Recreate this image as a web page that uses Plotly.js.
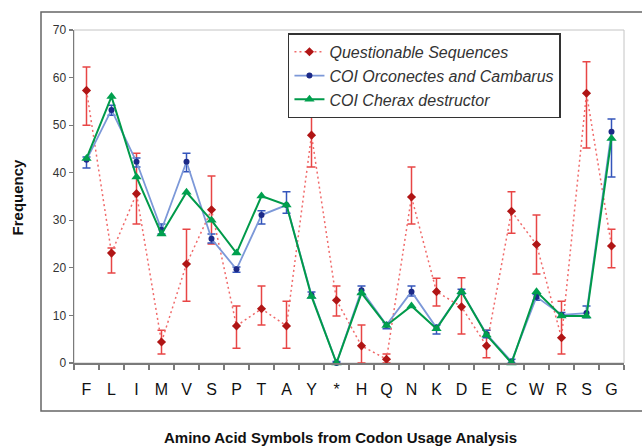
<!DOCTYPE html>
<html>
<head>
<meta charset="utf-8">
<script src="https://cdn.plot.ly/plotly-3.0.1.min.js"></script>
<style>
html,body{margin:0;padding:0;background:#fff;}
#chart{width:642px;height:447px;}
</style>
</head>
<body>
<div id="chart"></div>
<script>
const categories = ['F','L','I','M','V','S','P','T','A','Y','*','H','Q','N','K','D','E','C','W','R','S','G'];

const questionable   = [57.3, 23.1, 35.6, 4.4, 20.8, 32.2, 7.8, 11.4, 7.8, 47.9, 13.2, 3.6, 0.8, 34.9, 15.0, 11.8, 3.6, 31.9, 24.9, 5.3, 56.7, 24.6];
const questionableHi = [62.2, 24.2, 44.1, 6.9, 28.1, 39.3, 12.0, 16.2, 13.0, 53.2, 16.2, 8.0, 1.9, 41.2, 17.8, 17.9, 6.9, 36.0, 31.1, 13.0, 63.3, 28.1];
const questionableLo = [50.0, 18.9, 29.2, 1.9, 13.0, 25.0, 3.1, 8.0, 3.1, 41.2, 9.9, 0.0, 0.0, 29.2, 12.0, 6.1, 1.1, 27.3, 18.7, 1.9, 45.2, 20.0];

const orconectes   = [42.7, 53.2, 42.3, 28.0, 42.3, 26.1, 19.7, 31.1, 33.2, 14.3, 0.0, 15.3, 8.0, 15.0, 7.4, 15.0, 6.1, 0.3, 13.9, 10.1, 10.5, 48.6];
const orconectesHi = [43.3, 54.2, 43.1, 29.2, 44.1, 27.1, 20.2, 32.0, 36.0, 14.9, 0.3, 16.2, 8.5, 16.2, 8.0, 15.5, 6.9, 0.8, 14.4, 10.6, 12.0, 51.3];
const orconectesLo = [41.0, 52.1, 41.2, 27.1, 40.2, 25.2, 19.1, 29.2, 31.5, 13.7, 0.0, 14.5, 7.2, 14.1, 6.1, 14.5, 5.3, 0.0, 13.2, 9.6, 9.5, 39.1];

const cherax = [43.0, 56.0, 39.1, 27.1, 35.9, 30.0, 23.1, 35.1, 33.2, 14.0, 0.0, 14.7, 7.9, 12.0, 7.2, 15.0, 5.9, 0.0, 15.0, 9.9, 9.9, 47.2];

const xs = categories.map((c, i) => i);
const plus = (v, hi) => v.map((d, i) => hi[i] - d);
const minus = (v, lo) => v.map((d, i) => d - lo[i]);

const FONT = 'Liberation Sans, Arial, sans-serif';

const traces = [
  {
    x: xs, y: questionable, name: '<i>Questionable Sequences</i>', type: 'scatter', mode: 'lines+markers',
    line: {color: '#f06a6a', width: 1.5, dash: '2px,3px'},
    marker: {symbol: 'diamond', size: 7, color: '#b01515'},
    error_y: {type: 'data', symmetric: false, array: plus(questionable, questionableHi), arrayminus: minus(questionable, questionableLo),
      color: '#e84545', thickness: 1.5, width: 4},
    cliponaxis: false
  },
  {
    x: xs, y: orconectes, name: '<i>COI Orconectes and Cambarus</i>', type: 'scatter', mode: 'lines+markers',
    line: {color: '#7c98d8', width: 1.8},
    marker: {symbol: 'circle', size: 6, color: '#1c2a88'},
    error_y: {type: 'data', symmetric: false, array: plus(orconectes, orconectesHi), arrayminus: minus(orconectes, orconectesLo),
      color: '#3455bb', thickness: 1.5, width: 4},
    cliponaxis: false
  },
  {
    x: xs, y: cherax, name: '<i>COI Cherax destructor</i>', type: 'scatter', mode: 'lines+markers',
    line: {color: '#009a4a', width: 2},
    marker: {symbol: 'triangle-up', size: 9, color: '#00a04e'},
    cliponaxis: false
  }
];

const layout = {
  width: 642, height: 447,
  margin: {l: 74, r: 18, t: 30, b: 84},
  paper_bgcolor: '#fff', plot_bgcolor: '#fff',
  font: {family: FONT, color: '#222'},
  showlegend: true,
  legend: {
    x: 0.389, y: 0.99, xanchor: 'left', yanchor: 'top',
    bgcolor: '#fff', bordercolor: '#333', borderwidth: 1.5,
    font: {family: FONT, size: 16, color: '#333'},
    tracegroupgap: 0
  },
  xaxis: {
    range: [-0.5, 21.5], tickmode: 'array', tickvals: xs, ticktext: categories,
    ticks: '', showgrid: false, zeroline: false,
    showline: true, linecolor: '#7a7a7a', linewidth: 1.5,
    tickfont: {family: FONT, size: 16, color: '#111'},
    ticklabelstandoff: 11,
    minor: {ticks: 'outside', tick0: -0.5, dtick: 1, ticklen: 5, tickcolor: '#7a7a7a', tickwidth: 1.2, showgrid: false}
  },
  yaxis: {
    range: [0, 70], dtick: 10, ticks: 'outside', ticklen: 4, tickcolor: '#7a7a7a', tickwidth: 1.2,
    showgrid: false, zeroline: false,
    showline: true, linecolor: '#7a7a7a', linewidth: 1.5,
    tickfont: {family: FONT, size: 12, color: '#333'}
  },
  shapes: [
    {type: 'rect', xref: 'paper', yref: 'paper', x0: 0, x1: 1, y0: 0, y1: 1, line: {color: '#c4c4c4', width: 1}, layer: 'below'},
    {type: 'rect', xref: 'paper', yref: 'paper', x0: -0.06, x1: 1.1, y0: -0.144, y1: 1.054, line: {color: '#666', width: 1.5}, layer: 'below'}
  ],
  annotations: [
    {text: '<b>Frequency</b>', xref: 'paper', yref: 'paper', x: -0.102, y: 0.5, textangle: -90, showarrow: false,
      xanchor: 'center', yanchor: 'middle', font: {family: FONT, size: 15, color: '#111'}},
    {text: '<b>Amino Acid Symbols from Codon Usage Analysis</b>', xref: 'paper', yref: 'paper', x: 0.4845, y: -0.225,
      showarrow: false, xanchor: 'center', yanchor: 'middle', font: {family: FONT, size: 15, color: '#111'}}
  ]
};

Plotly.newPlot('chart', traces, layout, {displayModeBar: false, staticPlot: true});
</script>
</body>
</html>
